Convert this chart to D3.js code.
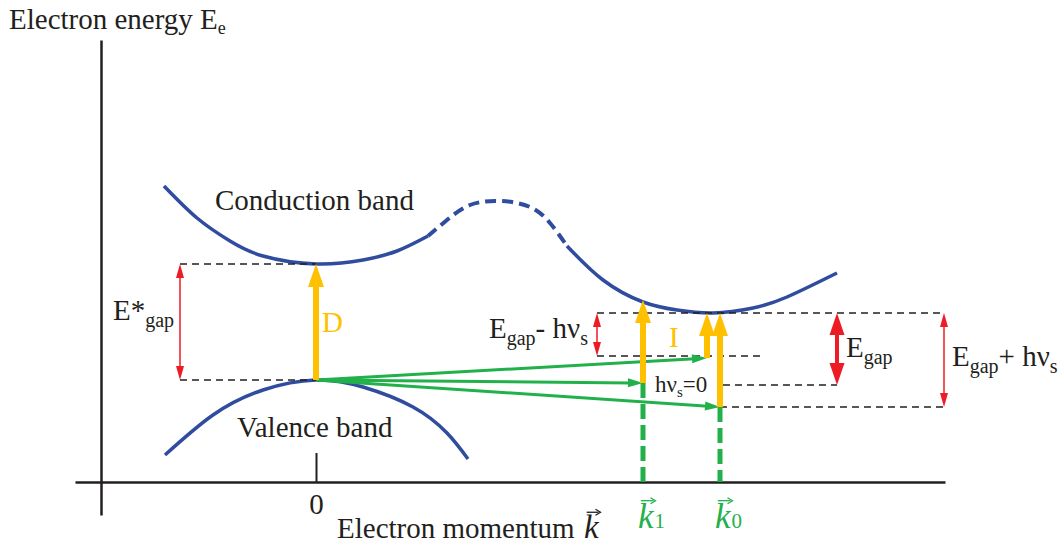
<!doctype html>
<html lang="en">
<head>
<meta charset="UTF-8" />
<title>Direct and indirect band gap</title>
<script src="https://d3js.org/d3.v7.min.js"></script>
<style>
  body { margin: 0; background: #ffffff; }
  svg { display: block; font-family: 'Liberation Serif', 'Times New Roman', serif; }
  .lbl { font-size: 29px; fill: #231f20; }
</style>
</head>
<body>
<svg id="chart" width="1061" height="545"></svg>
<script>
// band curves, as [k, E] pairs (k and E in arbitrary units)
const conductionLeft = [[-1.52, 1.94], [-1.19, 1.62], [-0.86, 1.39], [-0.53, 1.24], [0, 1.16], [0.47, 1.2], [0.81, 1.29], [1.12, 1.44]]
const conductionHump = [[1.12, 1.44], [1.31, 1.6], [1.54, 1.75], [1.84, 1.79], [2.14, 1.73], [2.34, 1.57], [2.51, 1.34]]
const conductionRight = [[2.51, 1.34], [2.87, 1.0], [3.27, 0.78], [3.61, 0.7], [3.97, 0.67], [4.37, 0.72], [4.71, 0.83], [5.21, 1.07]]
const valenceBand = [[-1.51, -0.75], [-1.03, -0.35], [-0.53, -0.1], [0, 0], [0.47, -0.07], [0.97, -0.27], [1.31, -0.53], [1.52, -0.79]]

// dashed energy levels: [kFrom, kTo, E]
const levels = [[-1.36, 0, 1.16], [-1.36, 0, 0], [2.81, 6.28, 0.67], [2.81, 4.49, 0.24], [4.07, 5.21, -0.05], [4.04, 6.28, -0.27]]

// red gap arrows: [k, Elow, Ehigh, thick]
const gaps = [[-1.36, 0, 1.16, false], [2.81, 0.24, 0.67, false], [5.21, -0.05, 0.67, true], [6.28, -0.27, 0.67, false]]

// photon absorption (vertical, yellow): [k, Efrom, Eto]
const photons = [[0, 0, 1.16], [3.27, -0.03, 0.8], [3.91, 0.22, 0.67], [4.04, -0.27, 0.67]]

// phonon-assisted momentum transfer (green), from valence top: [k, E] end points
const valenceTop = [0, 0]
const phonons = [[3.91, 0.22], [3.27, -0.03], [4.04, -0.27]]

// momenta marked on the axis: [k, E where the dashed drop starts, index]
const momenta = [[3.27, -0.03, '1'], [4.04, -0.27, '0']]
const kTicks = [0]
const kAxisE = -1.02

const blue = '#2f4c9e', yellow = '#ffc000', green = '#22b04b', red = '#ed1c24', ink = '#231f20'

const svg = d3.select('#chart')
const x = d3.scaleLinear().domain([-2.41, 6.29]).range([75, 945])
const y = d3.scaleLinear().domain([-1.35, 3.4]).range([515, 40])

// axes
svg.append('g')
  .attr('transform', `translate(${x(-2.15)},0)`)
  .call(d3.axisLeft(y).tickValues([]).tickSizeOuter(0))
  .call(g => g.select('.domain').attr('stroke', ink).attr('stroke-width', 2.5))

svg.append('g')
  .attr('transform', `translate(0,${y(kAxisE)})`)
  .call(d3.axisBottom(x).tickValues(kTicks).tickSizeInner(-29).tickSizeOuter(0).tickPadding(11).tickFormat(d3.format('d')))
  .call(g => g.select('.domain').attr('stroke', ink).attr('stroke-width', 2.5))
  .call(g => g.selectAll('.tick line').attr('stroke', ink).attr('stroke-width', 2))
  .call(g => g.selectAll('.tick text').attr('fill', ink).attr('font-size', 29)
    .attr('font-family', "'Liberation Serif', serif"))

// bands
const line = d3.line().x(d => x(d[0])).y(d => y(d[1])).curve(d3.curveNatural)
;[conductionLeft, conductionRight, valenceBand].forEach(pts => {
  svg.append('path').attr('d', line(pts)).attr('fill', 'none')
    .attr('stroke', blue).attr('stroke-width', 3.5)
})
svg.append('path').attr('d', line(conductionHump)).attr('fill', 'none')
  .attr('stroke', blue).attr('stroke-width', 4).attr('stroke-dasharray', '11,6')

// dashed levels
svg.selectAll('.level').data(levels).enter().append('line')
  .attr('x1', d => x(d[0])).attr('x2', d => x(d[1]))
  .attr('y1', d => y(d[2])).attr('y2', d => y(d[2]))
  .attr('stroke', ink).attr('stroke-width', 1.5).attr('stroke-dasharray', '7,5')

// green dashed drops to the momentum axis
svg.selectAll('.drop').data(momenta).enter().append('line')
  .attr('x1', d => x(d[0])).attr('x2', d => x(d[0]))
  .attr('y1', d => y(d[1])).attr('y2', y(kAxisE))
  .attr('stroke', green).attr('stroke-width', 5).attr('stroke-dasharray', '15,6')

function arrow(p1, p2, o) {
  const dx = p2[0] - p1[0], dy = p2[1] - p1[1]
  const len = Math.hypot(dx, dy), ux = dx / len, uy = dy / len
  const px = -uy, py = ux
  const s = o.both ? [p1[0] + ux * o.hl * 0.8, p1[1] + uy * o.hl * 0.8] : p1
  const e = [p2[0] - ux * o.hl * 0.8, p2[1] - uy * o.hl * 0.8]
  svg.append('line').attr('x1', s[0]).attr('y1', s[1]).attr('x2', e[0]).attr('y2', e[1])
    .attr('stroke', o.color).attr('stroke-width', o.w)
  const head = (tip, sx, sy) => {
    const bx = tip[0] - sx * o.hl, by = tip[1] - sy * o.hl
    svg.append('polygon')
      .attr('points', [[tip[0], tip[1]], [bx + px * o.hw / 2, by + py * o.hw / 2], [bx - px * o.hw / 2, by - py * o.hw / 2]].join(' '))
      .attr('fill', o.color)
  }
  head(p2, ux, uy)
  if (o.both) head(p1, -ux, -uy)
}

// red gap arrows
gaps.forEach(d => {
  const o = d[3] ? { color: red, w: 4, hl: 22, hw: 15, both: true } : { color: red, w: 1.5, hl: 14, hw: 8, both: true }
  arrow([x(d[0]), y(d[1])], [x(d[0]), y(d[2])], o)
})

// green phonon arrows
phonons.forEach(d => {
  arrow([x(valenceTop[0]), y(valenceTop[1])], [x(d[0]), y(d[1])], { color: green, w: 3, hl: 15, hw: 9 })
})

// yellow photon arrows
photons.forEach(d => {
  arrow([x(d[0]), y(d[1])], [x(d[0]), y(d[2])], { color: yellow, w: 6, hl: 23, hw: 16 })
})

// labels with subscripts: parts = [[text, isSub]]
function label(px, py, parts, opt = {}) {
  const t = svg.append('text').attr('class', 'lbl').attr('x', px).attr('y', py)
  if (opt.fill) t.style('fill', opt.fill)
  if (opt.size) t.style('font-size', opt.size + 'px')
  let sub = false
  const subSize = opt.subSize || 20
  const shift = opt.shift || 7
  parts.forEach(([txt, isSub]) => {
    const ts = t.append('tspan').text(txt)
    if (isSub && !sub) ts.attr('dy', shift).style('font-size', subSize + 'px')
    else if (isSub) ts.style('font-size', subSize + 'px')
    else if (sub) ts.attr('dy', -shift)
    sub = isSub
  })
  return t
}

label(9, 29, [['Electron energy E', false], ['e', true]], { subSize: 18, shift: 5 })
label(215, 210, [['Conduction band', false]])
label(237, 437, [['Valence band', false]])
label(113, 320, [['E*', false], ['gap', true]])
label(x(0) + 6, 332, [['D', false]], { fill: yellow })
label(669, 347, [['I', false]], { fill: yellow })
label(489, 338, [['E', false], ['gap', true], ['- hν', false], ['s', true]])
label(655, 392, [['hν', false], ['s', true], ['=0', false]], { size: 23, subSize: 15, shift: 5 })
label(846, 357, [['E', false], ['gap', true]])
label(952, 366, [['E', false], ['gap', true], ['+ hν', false], ['s', true]])
label(337, 538, [['Electron momentum', false]])

// vector k symbols with an arrow over them
function vecK(px, py, size, color, idx) {
  const t = svg.append('text').attr('x', px).attr('y', py).style('fill', color)
    .style('font-size', size + 'px').style('font-style', 'italic').text('k')
  if (idx) t.append('tspan').style('font-style', 'normal').style('font-size', Math.round(size * 0.6) + 'px').attr('dx', 1).text(idx)
  const ax = px + size * 0.08, ay = py - size * 0.78, aw = size * 0.42
  svg.append('line').attr('x1', ax).attr('y1', ay).attr('x2', ax + aw - 2).attr('y2', ay)
    .attr('stroke', color).attr('stroke-width', 1.3)
  svg.append('path').attr('d', `M${ax + aw - 5},${ay - 3} L${ax + aw},${ay} L${ax + aw - 5},${ay + 3}`)
    .attr('fill', 'none').attr('stroke', color).attr('stroke-width', 1.3)
}
vecK(584, 538, 33, ink)
momenta.forEach(d => vecK(x(d[0]) - 5, 528, 35, green, d[2]))
</script>
</body>
</html>
